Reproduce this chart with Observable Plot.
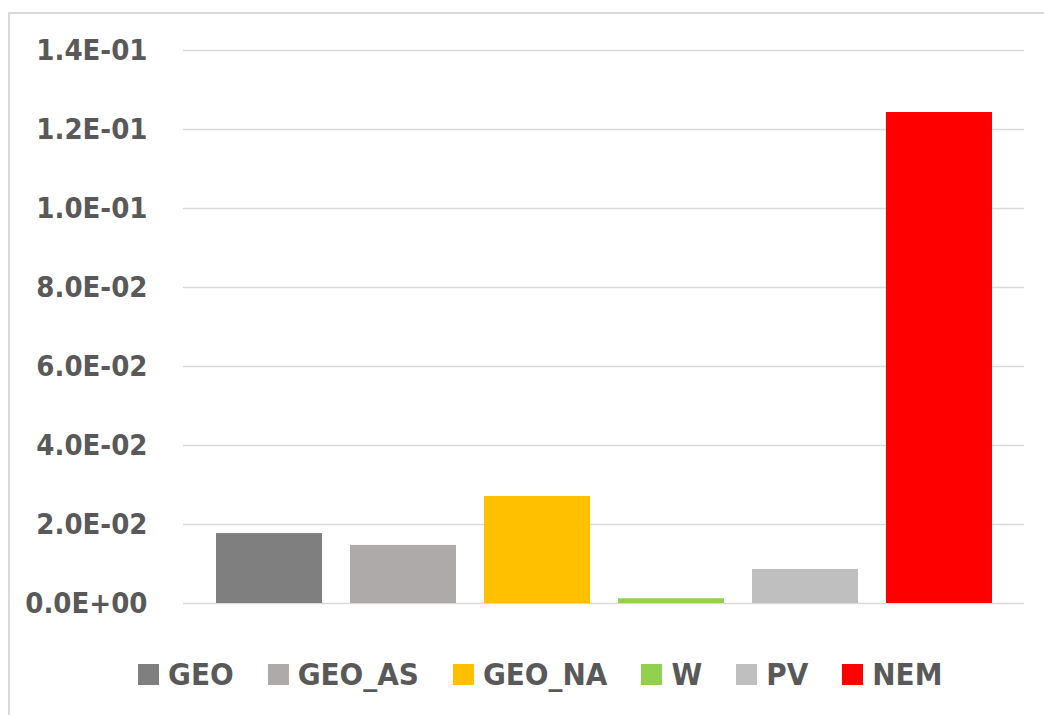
<!DOCTYPE html>
<html>
<head>
<meta charset="utf-8">
<script src="https://cdn.jsdelivr.net/npm/d3@7"></script>
<script src="https://cdn.jsdelivr.net/npm/@observablehq/plot@0.6"></script>
<style>
  html, body { margin: 0; padding: 0; background: #fff; }
  #wrap { position: relative; width: 1044px; height: 715px; overflow: hidden; }
  #frame { position: absolute; left: 8px; top: 12px; width: 1100px; height: 800px;
           border-top: 2px solid #d9d9d9; border-left: 2px solid #d9d9d9; box-sizing: border-box; }
  #chart { position: absolute; left: 0; top: 0; }
  #legend { position: absolute; left: 138px; top: 659px; display: flex; align-items: center;
            font-family: "DejaVu Sans Condensed", "DejaVu Sans", sans-serif;
            font-weight: bold; font-size: 31px; line-height: 31px; color: #595959; }
  .item { display: flex; align-items: center; margin-right: 34px; }
  .sw { width: 21px; height: 21px; margin-right: 9px; }
</style>
</head>
<body>
<div id="wrap">
  <div id="frame"></div>
  <div id="chart"></div>
  <div id="legend"></div>
</div>
<script>
const categories = ["GEO", "GEO_AS", "GEO_NA", "W", "PV", "NEM"];
const values = [0.0177, 0.0147, 0.0271, 0.0012, 0.0086, 0.1243];
const colors = ["#7f7f7f", "#aeaaaa", "#ffc000", "#92d050", "#bfbfbf", "#ff0000"];
const yTicks = [0, 0.02, 0.04, 0.06, 0.08, 0.10, 0.12, 0.14];

const data = categories.map((c, i) => ({category: c, value: values[i]}));

function sci(d) {
  const s = d.toExponential(1).toUpperCase();
  const [m, e] = s.split("E");
  const sign = e[0] === "-" ? "-" : "+";
  const digits = e.replace(/^[+-]/, "").padStart(2, "0");
  return m + "E" + sign + digits;
}

const chart = Plot.plot({
  width: 1044,
  height: 620,
  marginLeft: 183,
  marginRight: 20,
  marginTop: 50,
  marginBottom: 17,
  style: {
    fontFamily: '"DejaVu Sans Condensed", "DejaVu Sans", sans-serif',
    fontSize: "29px",
    fontWeight: "bold",
    color: "#595959",
    background: "transparent"
  },
  x: {domain: categories, paddingInner: 0.209, paddingOuter: 0.2425, axis: null},
  y: {domain: [0, 0.14], label: null},
  color: {domain: categories, range: colors},
  marks: [
    Plot.ruleY(yTicks, {stroke: "#d9d9d9", strokeWidth: 1.5}),
    Plot.barY(data, {x: "category", y: "value", fill: "category"}),
    Plot.axisY({ticks: yTicks, tickFormat: sci, tickSize: 0, tickPadding: 36, label: null, fontSize: 29, fontWeight: "bold"})
  ]
});
document.getElementById("chart").appendChild(chart);

const legend = document.getElementById("legend");
categories.forEach((c, i) => {
  const item = document.createElement("div");
  item.className = "item";
  const sw = document.createElement("div");
  sw.className = "sw";
  sw.style.background = colors[i];
  const t = document.createElement("span");
  t.textContent = c;
  item.appendChild(sw);
  item.appendChild(t);
  legend.appendChild(item);
});
</script>
</body>
</html>
